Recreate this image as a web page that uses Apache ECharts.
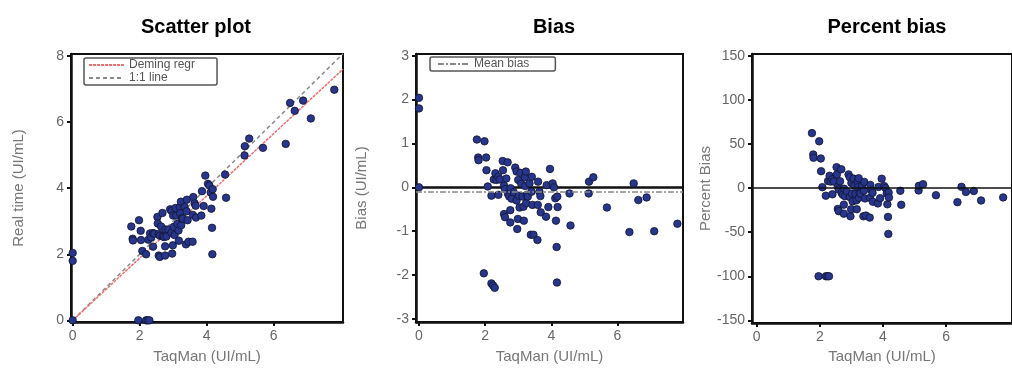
<!DOCTYPE html>
<html>
<head>
<meta charset="utf-8">
<script src="https://cdn.jsdelivr.net/npm/echarts@6/dist/echarts.min.js"></script>
<style>
html,body{margin:0;padding:0;background:#fff;}
#c{width:1012px;height:369px;}
</style>
</head>
<body>
<div id="c"></div>
<script>
// ---- Data ----
const taqman = [0,0,0,1.75,1.79,1.80,1.98,2.03,2.04,2.08,2.19,1.96,2.19,2.24,2.29,2.26,2.31,2.34,2.40,2.40,2.44,2.53,2.54,2.57,2.60,2.57,2.60,2.64,2.68,2.69,2.73,2.77,2.76,2.76,2.80,2.86,2.91,2.95,2.95,2.97,2.99,3.00,3.02,3.04,3.07,3.09,3.13,3.16,3.17,3.20,3.21,3.23,3.24,3.26,3.29,3.34,3.38,3.41,3.40,3.43,3.46,3.58,3.60,3.59,3.64,3.67,3.68,3.84,3.86,3.91,3.96,4.04,4.08,4.12,4.14,4.16,4.18,4.19,4.17,4.55,4.58,5.13,5.14,5.27,5.68,6.36,6.49,6.63,6.88,7.11,7.81];
const realTime = [2.04,1.80,0,2.84,2.47,2.42,3.03,2.71,2.43,2.10,2.00,0,0,0,0,2.44,2.63,2.51,2.64,2.23,2.62,3.13,2.93,2.61,2.56,1.96,1.92,2.84,3.25,2.54,2.52,2.75,2.24,1.96,2.54,2.75,3.36,3.31,2.65,2.02,2.27,3.17,2.83,2.58,3.40,3.17,2.92,2.72,2.41,3.43,3.24,3.59,2.88,3.09,3.08,3.43,2.30,3.65,3.30,3.03,2.38,2.38,3.73,3.19,3.54,3.47,3.11,3.17,3.91,3.46,4.38,4.13,4.08,3.87,3.38,2.80,3.97,3.74,2.00,4.41,3.71,4.99,5.27,5.50,5.22,5.34,6.58,6.34,6.65,6.11,6.98];
const bias = [2.04,1.80,0,1.09,0.68,0.62,1.05,0.68,0.39,0.02,-0.19,-1.96,-2.19,-2.24,-2.29,0.18,0.32,0.17,0.24,-0.17,0.18,0.60,0.39,0.04,-0.04,-0.61,-0.68,0.20,0.57,-0.15,-0.21,-0.02,-0.52,-0.80,-0.26,-0.11,0.45,0.36,-0.30,-0.95,-0.72,0.17,-0.19,-0.46,0.33,0.08,-0.21,-0.44,-0.76,0.23,0.03,0.36,-0.36,-0.17,-0.21,0.09,-1.08,0.24,-0.10,-0.40,-1.08,-1.20,0.13,-0.40,-0.10,-0.20,-0.57,-0.67,0.05,-0.45,0.42,0.09,0.00,-0.25,-0.76,-1.36,-0.21,-0.45,-2.17,-0.14,-0.87,-0.14,0.13,0.23,-0.46,-1.02,0.09,-0.29,-0.23,-1.00,-0.83];
const percentBias = [null,null,null,62.3,38.0,34.4,53.0,33.5,19.1,1.0,-8.7,-100,-100,-100,-100,8.0,13.9,7.3,10.0,-7.1,7.4,23.7,15.4,1.6,-1.5,-23.7,-26.2,7.6,21.3,-5.6,-7.7,-0.7,-18.8,-29.0,-9.3,-3.8,15.5,12.2,-10.2,-32.0,-24.1,5.7,-6.3,-15.1,10.7,2.6,-6.7,-13.9,-24.0,7.2,0.9,11.1,-11.1,-5.2,-6.4,2.7,-32.0,7.0,-2.9,-11.7,-31.2,-33.5,3.6,-11.1,-2.7,-5.4,-15.5,-17.4,1.3,-11.5,10.6,2.2,0.0,-6.1,-18.4,-32.7,-5.0,-10.7,-52.0,-3.1,-19.0,-2.7,2.5,4.4,-8.1,-16.0,1.4,-4.4,-3.3,-14.1,-10.6];
const demingX = [0, 8.07];
const demingY = [0, 7.60];
const identityX = [0, 8.07];
const identityY = [0, 8.07];
const meanBias = -0.1;
const xTicks = [0, 2, 4, 6];
const yTicksScatter = [0, 2, 4, 6, 8];
const yTicksBias = [-3, -2, -1, 0, 1, 2, 3];
const yTicksPct = [-150, -100, -50, 0, 50, 100, 150];
const titles = ['Scatter plot', 'Bias', 'Percent bias'];

// ---- Build ----
const zip = (a, b) => a.map((v, i) => [v, b[i]]).filter(p => p[1] !== null);
const ptStyle = {color: '#27358c', borderColor: '#10142e', borderWidth: 0.8, opacity: 1};
const font = 'Liberation Sans, Arial, sans-serif';
const black = '#111';

function xAx(idx, min, max, gap) {
  return {
    gridIndex: idx, type: 'value', min: min, max: max,
    name: 'TaqMan (UI/mL)', nameLocation: 'middle', nameGap: gap,
    nameTextStyle: {color: '#777', fontSize: 15, fontFamily: font},
    axisLine: {onZero: false, lineStyle: {color: black, width: 2.5}},
    axisTick: {show: true, length: 4, customValues: xTicks, lineStyle: {color: black, width: 2}},
    axisLabel: {customValues: xTicks, color: '#666', fontSize: 14, fontFamily: font, margin: 7},
    splitLine: {show: false}
  };
}
function yAx(idx, min, max, ticks, name, gap) {
  return {
    gridIndex: idx, type: 'value', min: min, max: max,
    name: name, nameLocation: 'middle', nameGap: gap,
    nameTextStyle: {color: '#777', fontSize: 15, fontFamily: font},
    axisLine: {onZero: false, lineStyle: {color: black, width: 2.5}},
    axisTick: {show: true, length: 4, customValues: ticks, lineStyle: {color: black, width: 2}},
    axisLabel: {customValues: ticks, color: '#666', fontSize: 14, fontFamily: font, margin: 7},
    splitLine: {show: false}
  };
}
const gridBase = {show: true, borderColor: black, borderWidth: 2, backgroundColor: 'transparent'};
const legendItem = {color: 'transparent', borderColor: 'transparent', borderWidth: 0};

const option = {
  animation: false,
  backgroundColor: '#fff',
  title: [
    {text: titles[0], left: 191, top: 12, textAlign: 'center', textStyle: {fontSize: 20, fontWeight: 'bold', color: '#000', fontFamily: font}},
    {text: titles[1], left: 549, top: 12, textAlign: 'center', textStyle: {fontSize: 20, fontWeight: 'bold', color: '#000', fontFamily: font}},
    {text: titles[2], left: 882, top: 12, textAlign: 'center', textStyle: {fontSize: 20, fontWeight: 'bold', color: '#000', fontFamily: font}}
  ],
  legend: [
    {data: ['Deming regr', '1:1 line'], orient: 'vertical', left: 84, top: 58,
     itemWidth: 35, itemHeight: 8, itemGap: 1, padding: [1, 22, 1, 4],
     borderColor: '#555', borderWidth: 1.5, borderRadius: 2,
     itemStyle: legendItem,
     textStyle: {fontSize: 12, color: '#555', fontFamily: font, lineHeight: 9}},
    {data: ['Mean bias'], orient: 'vertical', left: 430, top: 57,
     itemWidth: 31, itemHeight: 8, padding: [1, 26, 1, 7],
     borderColor: '#555', borderWidth: 1.5, borderRadius: 2,
     itemStyle: legendItem,
     textStyle: {fontSize: 12, color: '#555', fontFamily: font, lineHeight: 10}}
  ],
  grid: [
    Object.assign({left: 71, top: 54, width: 272, height: 273}, gridBase),
    Object.assign({left: 416, top: 54, width: 267, height: 269}, gridBase),
    Object.assign({left: 752, top: 54, width: 272, height: 269}, gridBase)
  ],
  xAxis: [
    xAx(0, -0.05, 8.07, 27),
    xAx(1, -0.09, 7.98, 27),
    xAx(2, -0.15, 8.09, 22)
  ],
  yAxis: [
    yAx(0, -0.05, 8.06, yTicksScatter, 'Real time (UI/mL)', 45),
    yAx(1, -3.07, 3.04, yTicksBias, 'Bias (UI/mL)', 47),
    yAx(2, -153, 152, yTicksPct, 'Percent Bias', 37)
  ],
  series: [
    {name: '1:1 line', type: 'line', xAxisIndex: 0, yAxisIndex: 0, z: 2,
     data: zip(identityX, identityY), symbol: 'none',
     lineStyle: {color: '#8a8a8a', width: 1.5, type: [4, 3]}, itemStyle: {color: '#8a8a8a'}},
    {name: 'Deming regr', type: 'line', xAxisIndex: 0, yAxisIndex: 0, z: 2,
     data: zip(demingX, demingY), symbol: 'none',
     lineStyle: {color: '#ee6f6f', width: 1.5, type: [3, 1]}, itemStyle: {color: '#ee6f6f'}},
    {name: 'Scatter', type: 'scatter', xAxisIndex: 0, yAxisIndex: 0, z: 3,
     data: zip(taqman, realTime), symbolSize: 7.5, itemStyle: ptStyle},

    {name: 'Mean bias', type: 'line', xAxisIndex: 1, yAxisIndex: 1, z: 2, data: [], symbol: 'none',
     lineStyle: {color: '#888', width: 1.5, type: [6, 2, 2, 2]}, itemStyle: {color: '#888'},
     markLine: {silent: true, symbol: 'none', label: {show: false},
       lineStyle: {color: '#888', width: 1.5, type: [6, 2, 2, 2]}, data: [{yAxis: meanBias}]}},
    {name: 'BiasPts', type: 'scatter', xAxisIndex: 1, yAxisIndex: 1, z: 3,
     data: zip(taqman, bias), symbolSize: 7.5, itemStyle: ptStyle,
     markLine: {silent: true, symbol: 'none', label: {show: false}, z: 1,
       lineStyle: {color: black, width: 2.5, type: 'solid'}, data: [{yAxis: 0}]}},

    {name: 'PctPts', type: 'scatter', xAxisIndex: 2, yAxisIndex: 2, z: 3,
     data: zip(taqman, percentBias), symbolSize: 7.5, itemStyle: ptStyle,
     markLine: {silent: true, symbol: 'none', label: {show: false},
       lineStyle: {color: black, width: 1.5, type: 'solid'}, data: [{yAxis: 0}]}}
  ]
};
const chart = echarts.init(document.getElementById('c'), null, {renderer: 'canvas'});
chart.setOption(option);
</script>
</body>
</html>
